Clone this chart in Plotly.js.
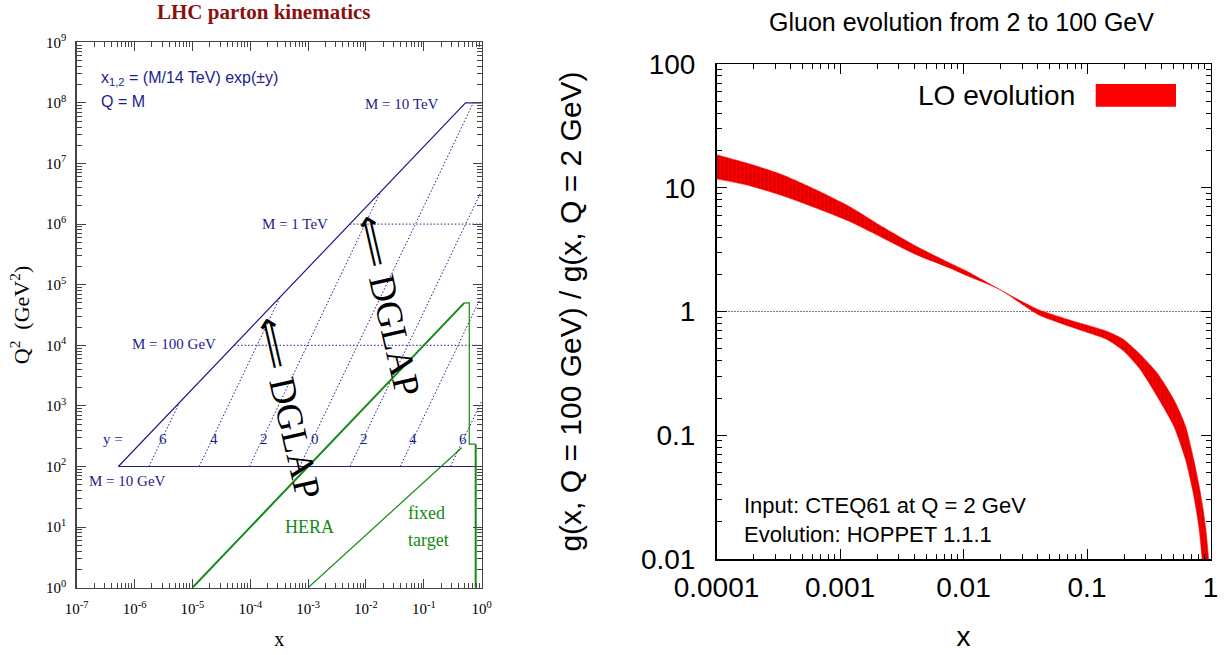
<!DOCTYPE html>
<html>
<head>
<meta charset="utf-8">
<script src="https://cdn.plot.ly/plotly-3.0.1.min.js"></script>
<style>html,body{margin:0;padding:0;background:#fff;}#chart{width:1226px;height:655px;}</style>
</head>
<body>
<div id="chart"></div>
<script>
// ---------- Left panel: LHC parton kinematics (x, Q^2) ----------
const leftXTickVals = [1e-7, 1e-6, 1e-5, 1e-4, 1e-3, 1e-2, 1e-1, 1];
const leftXTickText = ['10<sup>-7</sup>', '10<sup>-6</sup>', '10<sup>-5</sup>', '10<sup>-4</sup>', '10<sup>-3</sup>', '10<sup>-2</sup>', '10<sup>-1</sup>', '10<sup>0</sup>'];
const leftYTickVals = [1, 1e1, 1e2, 1e3, 1e4, 1e5, 1e6, 1e7, 1e8, 1e9];
const leftYTickText = ['10<sup>0</sup>', '10<sup>1</sup>', '10<sup>2</sup>', '10<sup>3</sup>', '10<sup>4</sup>', '10<sup>5</sup>', '10<sup>6</sup>', '10<sup>7</sup>', '10<sup>8</sup>', '10<sup>9</sup>'];

// LHC reach boundary (M = 10 GeV line, diagonal edge, M = 10 TeV line)
const boundX  = [1, 5.25e-7, 0.525, 1];
const boundQ2 = [1e2, 1e2, 1e8, 1e8];
// M = 100 GeV and M = 1 TeV (dotted)
const massX  = [5.25e-5, 1, null, 5.25e-3, 1];
const massQ2 = [1e4, 1e4, null, 1e6, 1e6];
// constant rapidity lines y = 6,4,2,0,-2,-4,-6 (dotted)
const rapX  = [1.77e-6, 5.97e-6, null, 1.31e-5, 3.26e-4, null, 9.66e-5, 1.78e-2, null, 7.14e-4, 0.714, null, 5.28e-3, 1, null, 3.90e-2, 1, null, 0.288, 1];
const rapQ2 = [1e2, 1.14e3, null, 1e2, 6.21e4, null, 1e2, 3.40e6, null, 1e2, 1e8, null, 1e2, 3.59e6, null, 1e2, 6.58e4, null, 1e2, 1.20e3];
// HERA reach
const heraX  = [1e-5, 0.501, 0.610, 0.610, 0.787, 0.787];
const heraQ2 = [1, 5.01e4, 5.01e4, 234, 234, 1];
// fixed target reach
const fixedX  = [1e-3, 0.451];
const fixedQ2 = [1, 204];
// rapidity labels
const rapLabels = ['6', '4', '2', '0', '2', '4', '6'];
const rapLabelLogX = [-5.503, -4.622, -3.758, -2.881, -2.029, -1.183, -0.318];

// ---------- Right panel: gluon evolution ratio ----------
const rightXTickVals = [1e-4, 1e-3, 1e-2, 1e-1, 1];
const rightXTickText = ['0.0001', '0.001', '0.01', '0.1', '1'];
const rightYTickVals = [0.01, 0.1, 1, 10, 100];
const rightYTickText = ['0.01', '0.1', '1', '10', '100'];

const upperX = [1e-4, 1.845e-4, 3.44e-4, 6.40e-4, 1.19e-3, 2.22e-3, 4.14e-3, 7.71e-3, 1.05e-2, 1.98e-2, 4.0e-2, 7.78e-2, 0.145, 0.198, 0.270, 0.369, 0.504, 0.627, 0.731, 0.828, 0.910, 0.966, 0.989];
const upperRatio = [18.5, 15.6, 12.7, 9.64, 7.06, 4.82, 3.37, 2.47, 2.13, 1.50, 1.04, 0.836, 0.693, 0.594, 0.450, 0.320, 0.195, 0.119, 0.0640, 0.0345, 0.0186, 0.0100, 0.0050];
const lowerX = [1e-4, 1.845e-4, 3.44e-4, 6.40e-4, 1.19e-3, 2.22e-3, 4.14e-3, 7.71e-3, 1.05e-2, 1.98e-2, 4.0e-2, 7.78e-2, 0.145, 0.198, 0.270, 0.369, 0.504, 0.627, 0.723, 0.802, 0.855, 0.891];
const lowerRatio = [11.8, 10.4, 8.61, 6.85, 5.35, 3.93, 2.88, 2.25, 1.96, 1.50, 0.946, 0.738, 0.594, 0.479, 0.340, 0.207, 0.119, 0.0640, 0.0345, 0.0186, 0.0100, 0.0050];
const unityX = [1e-4, 1];
const unityY = [1, 1];

// ---------- styling ----------
const SERIF = '"Liberation Serif", "Times New Roman", serif';
const SANS = '"Liberation Sans", Arial, Helvetica, sans-serif';
const BLUE = '#1c1c8c';
const GREEN = '#138a13';
const FRAME = '#444444';

function minorLogTicks(fromExp, toExp) {
  const out = [];
  for (let e = fromExp; e < toExp; e++) {
    for (let k = 2; k <= 9; k++) out.push(k * Math.pow(10, e));
  }
  return out;
}

const traces = [
  {x: boundX, y: boundQ2, xaxis: 'x', yaxis: 'y', mode: 'lines', line: {color: BLUE, width: 1.2}, hoverinfo: 'skip'},
  {x: massX, y: massQ2, xaxis: 'x', yaxis: 'y', mode: 'lines', line: {color: BLUE, width: 1, dash: '1.5px,2px'}, hoverinfo: 'skip'},
  {x: rapX, y: rapQ2, xaxis: 'x', yaxis: 'y', mode: 'lines', line: {color: BLUE, width: 1, dash: '1.5px,2px'}, hoverinfo: 'skip'},
  {x: heraX.slice(0, 2), y: heraQ2.slice(0, 2), xaxis: 'x', yaxis: 'y', mode: 'lines', line: {color: GREEN, width: 2}, hoverinfo: 'skip'},
  {x: heraX.slice(1, 5), y: heraQ2.slice(1, 5), xaxis: 'x', yaxis: 'y', mode: 'lines', line: {color: GREEN, width: 1.2}, hoverinfo: 'skip'},
  {x: heraX.slice(4, 6), y: heraQ2.slice(4, 6), xaxis: 'x', yaxis: 'y', mode: 'lines', line: {color: GREEN, width: 2}, hoverinfo: 'skip'},
  {x: fixedX, y: fixedQ2, xaxis: 'x', yaxis: 'y', mode: 'lines', line: {color: GREEN, width: 1.2}, hoverinfo: 'skip'},

  {x: unityX, y: unityY, xaxis: 'x2', yaxis: 'y2', mode: 'lines', line: {color: '#000', width: 1, dash: '1px,2px'}, hoverinfo: 'skip'},
  {x: lowerX, y: lowerRatio, xaxis: 'x2', yaxis: 'y2', mode: 'lines', line: {color: '#ff0000', width: 0.5, shape: 'spline', smoothing: 0.6}, name: 'lower', hoverinfo: 'skip'},
  {x: upperX, y: upperRatio, xaxis: 'x2', yaxis: 'y2', mode: 'lines', fill: 'tonexty', fillcolor: '#ff0000',
   fillpattern: {shape: '|', bgcolor: '#ff0000', fgcolor: '#c20000', size: 4, solidity: 0.3},
   line: {color: '#ff0000', width: 0.5, shape: 'spline', smoothing: 0.6}, name: 'LO evolution', hoverinfo: 'skip'}
];

function logAxis(opts) {
  return Object.assign({
    type: 'log', showgrid: false, zeroline: false, showline: true, mirror: 'allticks',
    ticks: 'inside', tickmode: 'array', tickwidth: 1
  }, opts);
}

const annotations = [];
// left panel titles
annotations.push({xref: 'paper', yref: 'paper', x: 264 / 1226, y: (655 - 12) / 655, text: '<b>LHC parton kinematics</b>', showarrow: false, xanchor: 'center', yanchor: 'middle', font: {family: SERIF, size: 21, color: '#8b1010'}});
// left annotations (log units)
annotations.push({xref: 'x', yref: 'y', x: -6.615, y: 8.406, text: 'x<sub>1,2</sub> = (M/14 TeV) exp(±y)', showarrow: false, xanchor: 'left', yanchor: 'middle', font: {family: SANS, size: 16, color: BLUE}});
annotations.push({xref: 'x', yref: 'y', x: -6.615, y: 8.02, text: 'Q = M', showarrow: false, xanchor: 'left', yanchor: 'middle', font: {family: SANS, size: 16, color: BLUE}});
const massLabels = [['M = 10 TeV', -1.383, 7.98], ['M = 1 TeV', -3.226, 6.0], ['M = 100 GeV', -5.315, 4.02], ['M = 10 GeV', -6.122, 1.761]];
massLabels.forEach(m => annotations.push({xref: 'x', yref: 'y', x: m[1], y: m[2], text: m[0], showarrow: false, xanchor: 'center', yanchor: 'middle', font: {family: SERIF, size: 15, color: BLUE}}));
annotations.push({xref: 'x', yref: 'y', x: -6.378, y: 2.449, text: 'y =', showarrow: false, xanchor: 'center', yanchor: 'middle', font: {family: SERIF, size: 15, color: BLUE}});
rapLabels.forEach((t, i) => annotations.push({xref: 'x', yref: 'y', x: rapLabelLogX[i], y: 2.449, text: t, showarrow: false, xanchor: 'center', yanchor: 'middle', font: {family: SERIF, size: 15, color: BLUE}}));
annotations.push({xref: 'x', yref: 'y', x: -2.982, y: 0.997, text: 'HERA', showarrow: false, xanchor: 'center', yanchor: 'middle', font: {family: SERIF, size: 18, color: GREEN}});
annotations.push({xref: 'x', yref: 'y', x: -0.951, y: 1.228, text: 'fixed', showarrow: false, xanchor: 'center', yanchor: 'middle', font: {family: SERIF, size: 18, color: GREEN}});
annotations.push({xref: 'x', yref: 'y', x: -0.923, y: 0.787, text: 'target', showarrow: false, xanchor: 'center', yanchor: 'middle', font: {family: SERIF, size: 18, color: GREEN}});
annotations.push({xref: 'x', yref: 'y', x: -3.34, y: 2.96, text: '\u27F8 DGLAP', textangle: 77, showarrow: false, xanchor: 'center', yanchor: 'middle', font: {family: SERIF, size: 37, color: '#000'}});
annotations.push({xref: 'x', yref: 'y', x: -1.62, y: 4.66, text: '\u27F8 DGLAP', textangle: 77, showarrow: false, xanchor: 'center', yanchor: 'middle', font: {family: SERIF, size: 37, color: '#000'}});

// right panel
annotations.push({xref: 'paper', yref: 'paper', x: 962 / 1226, y: (655 - 22) / 655, text: 'Gluon evolution from 2 to 100 GeV', showarrow: false, xanchor: 'center', yanchor: 'middle', font: {family: SANS, size: 25, color: '#000'}});
annotations.push({xref: 'paper', yref: 'paper', x: 1077 / 1226, y: (655 - 95) / 655, text: 'LO evolution', showarrow: false, xanchor: 'right', yanchor: 'middle', font: {family: SANS, size: 28, color: '#000'}});
annotations.push({xref: 'x2', yref: 'y2', x: -3.796, y: -1.684, text: 'Input: CTEQ61 at Q = 2 GeV<br>Evolution: HOPPET 1.1.1', align: 'left', showarrow: false, xanchor: 'left', yanchor: 'middle', font: {family: SANS, size: 22, color: '#000'}});

const layout = {
  width: 1226, height: 655,
  margin: {l: 0, r: 0, t: 0, b: 0, pad: 0},
  paper_bgcolor: '#fff', plot_bgcolor: '#fff',
  showlegend: false,
  xaxis: logAxis({
    range: [-7, 0], domain: [76.7 / 1226, 481.7 / 1226], anchor: 'y',
    tickvals: leftXTickVals, ticktext: leftXTickText, ticklen: 9, tickcolor: FRAME,
    linecolor: FRAME, linewidth: 1.5, ticklabelstandoff: 7,
    tickfont: {family: SERIF, size: 15, color: '#000'},
    minor: {tickmode: 'array', tickvals: minorLogTicks(-7, 0), ticks: 'inside', ticklen: 5, tickcolor: FRAME, tickwidth: 1, showgrid: false},
    title: {text: 'x', font: {family: SERIF, size: 20, color: '#000'}, standoff: 16}
  }),
  yaxis: logAxis({
    range: [0, 9], domain: [(655 - 587.7) / 655, (655 - 42.3) / 655], anchor: 'x',
    tickvals: leftYTickVals, ticktext: leftYTickText, ticklen: 9, tickcolor: FRAME,
    linecolor: FRAME, linewidth: 1.5, ticklabelstandoff: 6,
    tickfont: {family: SERIF, size: 15, color: '#000'},
    minor: {tickmode: 'array', tickvals: minorLogTicks(0, 9), ticks: 'inside', ticklen: 5, tickcolor: FRAME, tickwidth: 1, showgrid: false},
    title: {text: 'Q<sup>2</sup>\u00a0\u00a0(GeV<sup>2</sup>)', font: {family: SERIF, size: 22, color: '#000'}, standoff: 10}
  }),
  xaxis2: logAxis({
    range: [-4, 0], domain: [716.5 / 1226, 1210.5 / 1226], anchor: 'y2',
    tickvals: rightXTickVals, ticktext: rightXTickText, ticklen: 10, tickcolor: '#000',
    linecolor: '#000', linewidth: 1.5, ticklabelstandoff: 3,
    tickfont: {family: SANS, size: 28, color: '#000'},
    minor: {tickmode: 'array', tickvals: minorLogTicks(-4, 0), ticks: 'inside', ticklen: 5, tickcolor: '#000', tickwidth: 1, showgrid: false},
    title: {text: 'x', font: {family: SANS, size: 28, color: '#000'}, standoff: 24}
  }),
  yaxis2: logAxis({
    range: [-2, 2], domain: [(655 - 559) / 655, (655 - 64) / 655], anchor: 'x2',
    tickvals: rightYTickVals, ticktext: rightYTickText, ticklen: 10, tickcolor: '#000',
    linecolor: '#000', linewidth: 1.5, ticklabelstandoff: 14,
    tickfont: {family: SANS, size: 28, color: '#000'},
    minor: {tickmode: 'array', tickvals: minorLogTicks(-2, 2), ticks: 'inside', ticklen: 5, tickcolor: '#000', tickwidth: 1, showgrid: false},
    title: {text: 'g(x, Q = 100 GeV) / g(x, Q = 2 GeV)', font: {family: SANS, size: 30, color: '#000'}, standoff: 50}
  }),
  shapes: [
    {type: 'rect', xref: 'paper', yref: 'paper', x0: 1095.7 / 1226, x1: 1176 / 1226, y0: (655 - 106.7) / 655, y1: (655 - 84) / 655, fillcolor: '#ff0000', line: {width: 0}}
  ],
  annotations: annotations
};

Plotly.newPlot('chart', traces, layout, {staticPlot: true, displayModeBar: false});
</script>
</body>
</html>
